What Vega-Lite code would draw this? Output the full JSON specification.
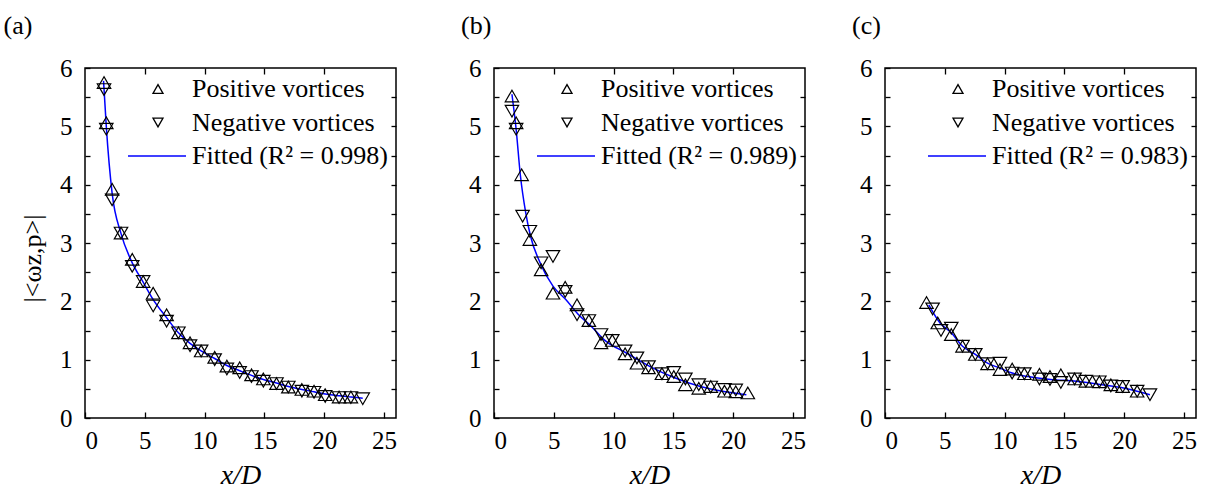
{
  "$schema": "https://vega.github.io/schema/vega-lite/v6.json",
  "background": "white",
  "padding": {"left": 2, "top": 12, "right": 2, "bottom": 2},
  "config": {
    "font": "Liberation Serif",
    "view": {"stroke": "black", "strokeWidth": 1.5},
    "axis": {"labelFont": "Liberation Serif", "labelFontSize": 25, "labelColor": "black", "titleFont": "Liberation Serif", "titleFontSize": 28, "titleColor": "black", "titleFontWeight": "normal", "domain": false, "grid": false, "tickColor": "black", "tickWidth": 1.3},
    "legend": {"orient": "top-right", "offset": 8, "padding": 0, "labelFont": "Liberation Serif", "labelFontSize": 26, "labelColor": "black", "labelLimit": 400, "symbolSize": 100, "symbolStrokeWidth": 1.3, "rowPadding": 7.5, "labelOffset": 21},
    "title": {"font": "Liberation Serif", "fontSize": 26, "fontWeight": "normal", "anchor": "start", "frame": "group", "color": "black", "baseline": "bottom", "offset": 17},
    "point": {"opacity": 1}
  },
  "datasets": {
    "ptsA": [
      {"x": 1.59, "y": 5.75, "series": "Positive vortices"}, {"x": 1.59, "y": 5.63, "series": "Negative vortices"},
      {"x": 1.78, "y": 5.06, "series": "Positive vortices"}, {"x": 1.78, "y": 4.95, "series": "Negative vortices"},
      {"x": 2.27, "y": 3.92, "series": "Positive vortices"}, {"x": 2.27, "y": 3.74, "series": "Negative vortices"},
      {"x": 3.01, "y": 3.17, "series": "Positive vortices"}, {"x": 3.01, "y": 3.17, "series": "Negative vortices"},
      {"x": 3.95, "y": 2.72, "series": "Positive vortices"}, {"x": 3.95, "y": 2.6, "series": "Negative vortices"},
      {"x": 4.86, "y": 2.34, "series": "Positive vortices"}, {"x": 4.86, "y": 2.34, "series": "Negative vortices"},
      {"x": 5.7, "y": 2.14, "series": "Positive vortices"}, {"x": 5.7, "y": 1.92, "series": "Negative vortices"},
      {"x": 6.82, "y": 1.77, "series": "Positive vortices"}, {"x": 6.82, "y": 1.66, "series": "Negative vortices"},
      {"x": 7.81, "y": 1.46, "series": "Positive vortices"}, {"x": 7.81, "y": 1.46, "series": "Negative vortices"},
      {"x": 8.78, "y": 1.29, "series": "Positive vortices"}, {"x": 8.78, "y": 1.24, "series": "Negative vortices"},
      {"x": 9.71, "y": 1.15, "series": "Positive vortices"}, {"x": 9.71, "y": 1.15, "series": "Negative vortices"},
      {"x": 10.84, "y": 1.04, "series": "Positive vortices"}, {"x": 10.84, "y": 1.0, "series": "Negative vortices"},
      {"x": 11.86, "y": 0.89, "series": "Positive vortices"}, {"x": 11.86, "y": 0.84, "series": "Negative vortices"},
      {"x": 12.93, "y": 0.86, "series": "Positive vortices"}, {"x": 12.93, "y": 0.78, "series": "Negative vortices"},
      {"x": 13.92, "y": 0.74, "series": "Positive vortices"}, {"x": 13.92, "y": 0.71, "series": "Negative vortices"},
      {"x": 14.91, "y": 0.67, "series": "Positive vortices"}, {"x": 14.91, "y": 0.63, "series": "Negative vortices"},
      {"x": 16.01, "y": 0.59, "series": "Positive vortices"}, {"x": 16.01, "y": 0.59, "series": "Negative vortices"},
      {"x": 17.0, "y": 0.53, "series": "Positive vortices"}, {"x": 17.0, "y": 0.53, "series": "Negative vortices"},
      {"x": 18.13, "y": 0.49, "series": "Positive vortices"}, {"x": 18.13, "y": 0.46, "series": "Negative vortices"},
      {"x": 19.15, "y": 0.46, "series": "Positive vortices"}, {"x": 19.15, "y": 0.44, "series": "Negative vortices"},
      {"x": 20.08, "y": 0.4, "series": "Positive vortices"}, {"x": 20.08, "y": 0.37, "series": "Negative vortices"},
      {"x": 21.24, "y": 0.36, "series": "Positive vortices"}, {"x": 21.24, "y": 0.35, "series": "Negative vortices"},
      {"x": 22.23, "y": 0.36, "series": "Positive vortices"}, {"x": 22.23, "y": 0.35, "series": "Negative vortices"},
      {"x": 23.22, "y": 0.33, "series": "Negative vortices"}
    ],
    "lineA": [
      {"x": 1.55, "y": 5.78, "series": "Fitted (R² = 0.998)"}, {"x": 1.78, "y": 5.0, "series": "Fitted (R² = 0.998)"},
      {"x": 2.27, "y": 3.85, "series": "Fitted (R² = 0.998)"}, {"x": 3.0, "y": 3.17, "series": "Fitted (R² = 0.998)"},
      {"x": 3.95, "y": 2.66, "series": "Fitted (R² = 0.998)"}, {"x": 4.86, "y": 2.33, "series": "Fitted (R² = 0.998)"},
      {"x": 5.7, "y": 2.03, "series": "Fitted (R² = 0.998)"}, {"x": 6.82, "y": 1.72, "series": "Fitted (R² = 0.998)"},
      {"x": 7.81, "y": 1.46, "series": "Fitted (R² = 0.998)"}, {"x": 8.78, "y": 1.28, "series": "Fitted (R² = 0.998)"},
      {"x": 9.71, "y": 1.15, "series": "Fitted (R² = 0.998)"}, {"x": 10.84, "y": 1.02, "series": "Fitted (R² = 0.998)"},
      {"x": 11.86, "y": 0.9, "series": "Fitted (R² = 0.998)"}, {"x": 12.93, "y": 0.81, "series": "Fitted (R² = 0.998)"},
      {"x": 13.92, "y": 0.73, "series": "Fitted (R² = 0.998)"}, {"x": 14.91, "y": 0.66, "series": "Fitted (R² = 0.998)"},
      {"x": 16.0, "y": 0.6, "series": "Fitted (R² = 0.998)"}, {"x": 17.0, "y": 0.54, "series": "Fitted (R² = 0.998)"},
      {"x": 18.13, "y": 0.49, "series": "Fitted (R² = 0.998)"}, {"x": 19.15, "y": 0.45, "series": "Fitted (R² = 0.998)"},
      {"x": 20.08, "y": 0.41, "series": "Fitted (R² = 0.998)"}, {"x": 21.24, "y": 0.38, "series": "Fitted (R² = 0.998)"},
      {"x": 22.23, "y": 0.36, "series": "Fitted (R² = 0.998)"}, {"x": 23.22, "y": 0.34, "series": "Fitted (R² = 0.998)"}
    ],
    "ptsB": [
      {"x": 1.5, "y": 5.52, "series": "Positive vortices"}, {"x": 1.5, "y": 5.26, "series": "Negative vortices"},
      {"x": 1.85, "y": 5.06, "series": "Positive vortices"}, {"x": 1.85, "y": 4.95, "series": "Negative vortices"},
      {"x": 2.31, "y": 4.17, "series": "Positive vortices"}, {"x": 2.39, "y": 3.46, "series": "Negative vortices"},
      {"x": 3.0, "y": 3.06, "series": "Positive vortices"}, {"x": 3.0, "y": 3.2, "series": "Negative vortices"},
      {"x": 3.94, "y": 2.54, "series": "Positive vortices"}, {"x": 3.94, "y": 2.66, "series": "Negative vortices"},
      {"x": 4.93, "y": 2.14, "series": "Positive vortices"}, {"x": 4.93, "y": 2.77, "series": "Negative vortices"},
      {"x": 5.95, "y": 2.24, "series": "Positive vortices"}, {"x": 5.95, "y": 2.17, "series": "Negative vortices"},
      {"x": 6.94, "y": 1.94, "series": "Positive vortices"}, {"x": 6.94, "y": 1.77, "series": "Negative vortices"},
      {"x": 7.93, "y": 1.67, "series": "Positive vortices"}, {"x": 7.93, "y": 1.67, "series": "Negative vortices"},
      {"x": 8.95, "y": 1.29, "series": "Positive vortices"}, {"x": 8.95, "y": 1.43, "series": "Negative vortices"},
      {"x": 9.89, "y": 1.33, "series": "Positive vortices"}, {"x": 9.89, "y": 1.33, "series": "Negative vortices"},
      {"x": 10.96, "y": 1.1, "series": "Positive vortices"}, {"x": 10.96, "y": 1.15, "series": "Negative vortices"},
      {"x": 11.95, "y": 0.94, "series": "Positive vortices"}, {"x": 11.95, "y": 1.03, "series": "Negative vortices"},
      {"x": 12.92, "y": 0.86, "series": "Positive vortices"}, {"x": 12.92, "y": 0.88, "series": "Negative vortices"},
      {"x": 14.04, "y": 0.76, "series": "Positive vortices"}, {"x": 14.04, "y": 0.76, "series": "Negative vortices"},
      {"x": 15.03, "y": 0.71, "series": "Positive vortices"}, {"x": 15.03, "y": 0.78, "series": "Negative vortices"},
      {"x": 16.0, "y": 0.57, "series": "Positive vortices"}, {"x": 16.0, "y": 0.67, "series": "Negative vortices"},
      {"x": 17.12, "y": 0.51, "series": "Positive vortices"}, {"x": 17.12, "y": 0.57, "series": "Negative vortices"},
      {"x": 18.12, "y": 0.54, "series": "Positive vortices"}, {"x": 18.12, "y": 0.53, "series": "Negative vortices"},
      {"x": 19.27, "y": 0.46, "series": "Positive vortices"}, {"x": 19.27, "y": 0.49, "series": "Negative vortices"},
      {"x": 20.21, "y": 0.45, "series": "Positive vortices"}, {"x": 20.21, "y": 0.48, "series": "Negative vortices"},
      {"x": 21.22, "y": 0.43, "series": "Positive vortices"}
    ],
    "lineB": [
      {"x": 1.5, "y": 5.55, "series": "Fitted (R² = 0.989)"}, {"x": 1.85, "y": 4.95, "series": "Fitted (R² = 0.989)"},
      {"x": 2.2, "y": 4.17, "series": "Fitted (R² = 0.989)"}, {"x": 2.65, "y": 3.52, "series": "Fitted (R² = 0.989)"},
      {"x": 3.05, "y": 3.12, "series": "Fitted (R² = 0.989)"}, {"x": 3.86, "y": 2.66, "series": "Fitted (R² = 0.989)"},
      {"x": 4.93, "y": 2.26, "series": "Fitted (R² = 0.989)"}, {"x": 6.0, "y": 2.03, "series": "Fitted (R² = 0.989)"},
      {"x": 7.07, "y": 1.77, "series": "Fitted (R² = 0.989)"}, {"x": 8.14, "y": 1.57, "series": "Fitted (R² = 0.989)"},
      {"x": 9.22, "y": 1.34, "series": "Fitted (R² = 0.989)"}, {"x": 11.1, "y": 1.11, "series": "Fitted (R² = 0.989)"},
      {"x": 12.97, "y": 0.89, "series": "Fitted (R² = 0.989)"}, {"x": 15.1, "y": 0.69, "series": "Fitted (R² = 0.989)"},
      {"x": 17.25, "y": 0.54, "series": "Fitted (R² = 0.989)"}, {"x": 19.1, "y": 0.46, "series": "Fitted (R² = 0.989)"},
      {"x": 21.1, "y": 0.4, "series": "Fitted (R² = 0.989)"}
    ],
    "ptsC": [
      {"x": 3.47, "y": 1.98, "series": "Positive vortices"}, {"x": 3.98, "y": 1.87, "series": "Negative vortices"},
      {"x": 4.41, "y": 1.63, "series": "Positive vortices"}, {"x": 4.68, "y": 1.5, "series": "Negative vortices"},
      {"x": 5.54, "y": 1.43, "series": "Positive vortices"}, {"x": 5.54, "y": 1.54, "series": "Negative vortices"},
      {"x": 6.48, "y": 1.23, "series": "Positive vortices"}, {"x": 6.48, "y": 1.23, "series": "Negative vortices"},
      {"x": 7.55, "y": 1.09, "series": "Positive vortices"}, {"x": 7.55, "y": 1.09, "series": "Negative vortices"},
      {"x": 8.57, "y": 0.93, "series": "Positive vortices"}, {"x": 8.57, "y": 0.93, "series": "Negative vortices"},
      {"x": 9.61, "y": 0.83, "series": "Positive vortices"}, {"x": 9.61, "y": 0.94, "series": "Negative vortices"},
      {"x": 10.63, "y": 0.84, "series": "Positive vortices"}, {"x": 10.63, "y": 0.77, "series": "Negative vortices"},
      {"x": 11.65, "y": 0.76, "series": "Positive vortices"}, {"x": 11.65, "y": 0.76, "series": "Negative vortices"},
      {"x": 12.91, "y": 0.75, "series": "Positive vortices"}, {"x": 12.91, "y": 0.67, "series": "Negative vortices"},
      {"x": 13.79, "y": 0.71, "series": "Positive vortices"}, {"x": 13.79, "y": 0.66, "series": "Negative vortices"},
      {"x": 14.7, "y": 0.74, "series": "Positive vortices"}, {"x": 14.7, "y": 0.61, "series": "Negative vortices"},
      {"x": 15.85, "y": 0.67, "series": "Positive vortices"}, {"x": 15.85, "y": 0.67, "series": "Negative vortices"},
      {"x": 16.79, "y": 0.63, "series": "Positive vortices"}, {"x": 16.79, "y": 0.63, "series": "Negative vortices"},
      {"x": 17.92, "y": 0.62, "series": "Positive vortices"}, {"x": 17.92, "y": 0.62, "series": "Negative vortices"},
      {"x": 18.88, "y": 0.57, "series": "Positive vortices"}, {"x": 18.88, "y": 0.55, "series": "Negative vortices"},
      {"x": 19.87, "y": 0.54, "series": "Positive vortices"}, {"x": 19.87, "y": 0.54, "series": "Negative vortices"},
      {"x": 21.08, "y": 0.46, "series": "Positive vortices"}, {"x": 21.08, "y": 0.46, "series": "Negative vortices"},
      {"x": 22.15, "y": 0.4, "series": "Negative vortices"}
    ],
    "lineC": [
      {"x": 3.66, "y": 1.94, "series": "Fitted (R² = 0.983)"}, {"x": 4.6, "y": 1.63, "series": "Fitted (R² = 0.983)"},
      {"x": 5.54, "y": 1.46, "series": "Fitted (R² = 0.983)"}, {"x": 6.48, "y": 1.23, "series": "Fitted (R² = 0.983)"},
      {"x": 7.55, "y": 1.09, "series": "Fitted (R² = 0.983)"}, {"x": 8.57, "y": 0.94, "series": "Fitted (R² = 0.983)"},
      {"x": 9.56, "y": 0.86, "series": "Fitted (R² = 0.983)"}, {"x": 10.63, "y": 0.77, "series": "Fitted (R² = 0.983)"},
      {"x": 11.97, "y": 0.71, "series": "Fitted (R² = 0.983)"}, {"x": 13.85, "y": 0.66, "series": "Fitted (R² = 0.983)"},
      {"x": 16.0, "y": 0.63, "series": "Fitted (R² = 0.983)"}, {"x": 18.14, "y": 0.57, "series": "Fitted (R² = 0.983)"},
      {"x": 20.02, "y": 0.51, "series": "Fitted (R² = 0.983)"}, {"x": 22.15, "y": 0.4, "series": "Fitted (R² = 0.983)"}
    ]
  },
  "spacing": 62,
  "hconcat": [
    {
      "title": {"text": "(a)", "dx": -81.5},
      "width": 311, "height": 350,
      "layer": [
        {
          "data": {"name": "lineA"},
          "mark": {"type": "line", "strokeWidth": 1.5, "interpolate": "monotone"},
          "encoding": {
            "x": {"field": "x", "type": "quantitative", "scale": {"domain": [0, 25]}, "axis": {"orient": "bottom", "values": [0, 5, 10, 15, 20, 25], "title": "x/D", "titleFontStyle": "italic", "tickSize": -6, "labelPadding": 16, "titlePadding": 8}},
            "y": {"field": "y", "type": "quantitative", "scale": {"domain": [0, 6]}, "axis": {"orient": "left", "values": [0, 0.5, 1, 1.5, 2, 2.5, 3, 3.5, 4, 4.5, 5, 5.5, 6], "labelExpr": "datum.value % 1 === 0 ? format(datum.value, 'd') : ''", "title": "|<ωz,p>|", "titleFontSize": 26, "titleY": 190, "tickSize": -5, "labelPadding": 18, "titlePadding": 14}},
            "stroke": {"field": "series", "type": "nominal", "scale": {"domain": ["Positive vortices", "Negative vortices", "Fitted (R² = 0.998)"], "range": ["black", "black", "#0000ff"]}, "legend": {"title": null}}
          }
        },
        {
          "data": {"name": "ptsA"},
          "mark": {"type": "point", "filled": false, "size": 180, "strokeWidth": 1.2, "opacity": 1},
          "encoding": {
            "x": {"field": "x", "type": "quantitative", "axis": {"orient": "top", "values": [5, 10, 15, 20], "labels": false, "title": null, "tickSize": -6}},
            "y": {"field": "y", "type": "quantitative", "axis": {"orient": "right", "values": [0.5, 1, 1.5, 2, 2.5, 3, 3.5, 4, 4.5, 5, 5.5], "labels": false, "title": null, "tickSize": -5}},
            "shape": {"field": "series", "type": "nominal", "scale": {"domain": ["Positive vortices", "Negative vortices", "Fitted (R² = 0.998)"], "range": ["triangle-up", "triangle-down", "M-6,0L5.6,0"]}, "legend": {"title": null}},
            "stroke": {"field": "series", "type": "nominal", "scale": {"domain": ["Positive vortices", "Negative vortices", "Fitted (R² = 0.998)"], "range": ["black", "black", "#0000ff"]}, "legend": {"title": null}}
          }
        }
      ],
      "resolve": {"axis": {"x": "independent", "y": "independent"}}
    },
    {
      "spacing": 44,
      "resolve": {"scale": {"stroke": "independent", "shape": "independent"}, "legend": {"stroke": "independent", "shape": "independent"}},
      "hconcat": [
        {
          "title": {"text": "(b)", "dx": -33},
          "width": 311, "height": 350,
          "layer": [
            {
              "data": {"name": "lineB"},
              "mark": {"type": "line", "strokeWidth": 1.5, "interpolate": "monotone"},
              "encoding": {
                "x": {"field": "x", "type": "quantitative", "scale": {"domain": [0, 25]}, "axis": {"orient": "bottom", "values": [0, 5, 10, 15, 20, 25], "title": "x/D", "titleFontStyle": "italic", "tickSize": -6, "labelPadding": 16, "titlePadding": 8}},
                "y": {"field": "y", "type": "quantitative", "scale": {"domain": [0, 6]}, "axis": {"orient": "left", "values": [0, 0.5, 1, 1.5, 2, 2.5, 3, 3.5, 4, 4.5, 5, 5.5, 6], "labelExpr": "datum.value % 1 === 0 ? format(datum.value, 'd') : ''", "title": null, "tickSize": -5, "labelPadding": 18}},
                "stroke": {"field": "series", "type": "nominal", "scale": {"domain": ["Positive vortices", "Negative vortices", "Fitted (R² = 0.989)"], "range": ["black", "black", "#0000ff"]}, "legend": {"title": null}}
              }
            },
            {
              "data": {"name": "ptsB"},
              "mark": {"type": "point", "filled": false, "size": 180, "strokeWidth": 1.2, "opacity": 1},
              "encoding": {
                "x": {"field": "x", "type": "quantitative", "axis": {"orient": "top", "values": [5, 10, 15, 20], "labels": false, "title": null, "tickSize": -6}},
                "y": {"field": "y", "type": "quantitative", "axis": {"orient": "right", "values": [0.5, 1, 1.5, 2, 2.5, 3, 3.5, 4, 4.5, 5, 5.5], "labels": false, "title": null, "tickSize": -5}},
                "shape": {"field": "series", "type": "nominal", "scale": {"domain": ["Positive vortices", "Negative vortices", "Fitted (R² = 0.989)"], "range": ["triangle-up", "triangle-down", "M-6,0L5.6,0"]}, "legend": {"title": null}},
                "stroke": {"field": "series", "type": "nominal", "scale": {"domain": ["Positive vortices", "Negative vortices", "Fitted (R² = 0.989)"], "range": ["black", "black", "#0000ff"]}, "legend": {"title": null}}
              }
            }
          ],
          "resolve": {"axis": {"x": "independent", "y": "independent"}}
        },
        {
          "title": {"text": "(c)", "dx": -33},
          "width": 311, "height": 350,
          "layer": [
            {
              "data": {"name": "lineC"},
              "mark": {"type": "line", "strokeWidth": 1.5, "interpolate": "monotone"},
              "encoding": {
                "x": {"field": "x", "type": "quantitative", "scale": {"domain": [0, 25]}, "axis": {"orient": "bottom", "values": [0, 5, 10, 15, 20, 25], "title": "x/D", "titleFontStyle": "italic", "tickSize": -6, "labelPadding": 16, "titlePadding": 8}},
                "y": {"field": "y", "type": "quantitative", "scale": {"domain": [0, 6]}, "axis": {"orient": "left", "values": [0, 0.5, 1, 1.5, 2, 2.5, 3, 3.5, 4, 4.5, 5, 5.5, 6], "labelExpr": "datum.value % 1 === 0 ? format(datum.value, 'd') : ''", "title": null, "tickSize": -5, "labelPadding": 18}},
                "stroke": {"field": "series", "type": "nominal", "scale": {"domain": ["Positive vortices", "Negative vortices", "Fitted (R² = 0.983)"], "range": ["black", "black", "#0000ff"]}, "legend": {"title": null}}
              }
            },
            {
              "data": {"name": "ptsC"},
              "mark": {"type": "point", "filled": false, "size": 180, "strokeWidth": 1.2, "opacity": 1},
              "encoding": {
                "x": {"field": "x", "type": "quantitative", "axis": {"orient": "top", "values": [5, 10, 15, 20], "labels": false, "title": null, "tickSize": -6}},
                "y": {"field": "y", "type": "quantitative", "axis": {"orient": "right", "values": [0.5, 1, 1.5, 2, 2.5, 3, 3.5, 4, 4.5, 5, 5.5], "labels": false, "title": null, "tickSize": -5}},
                "shape": {"field": "series", "type": "nominal", "scale": {"domain": ["Positive vortices", "Negative vortices", "Fitted (R² = 0.983)"], "range": ["triangle-up", "triangle-down", "M-6,0L5.6,0"]}, "legend": {"title": null}},
                "stroke": {"field": "series", "type": "nominal", "scale": {"domain": ["Positive vortices", "Negative vortices", "Fitted (R² = 0.983)"], "range": ["black", "black", "#0000ff"]}, "legend": {"title": null}}
              }
            }
          ],
          "resolve": {"axis": {"x": "independent", "y": "independent"}}
        }
      ]
    }
  ],
  "resolve": {"scale": {"stroke": "independent", "shape": "independent"}, "legend": {"stroke": "independent", "shape": "independent"}}
}
